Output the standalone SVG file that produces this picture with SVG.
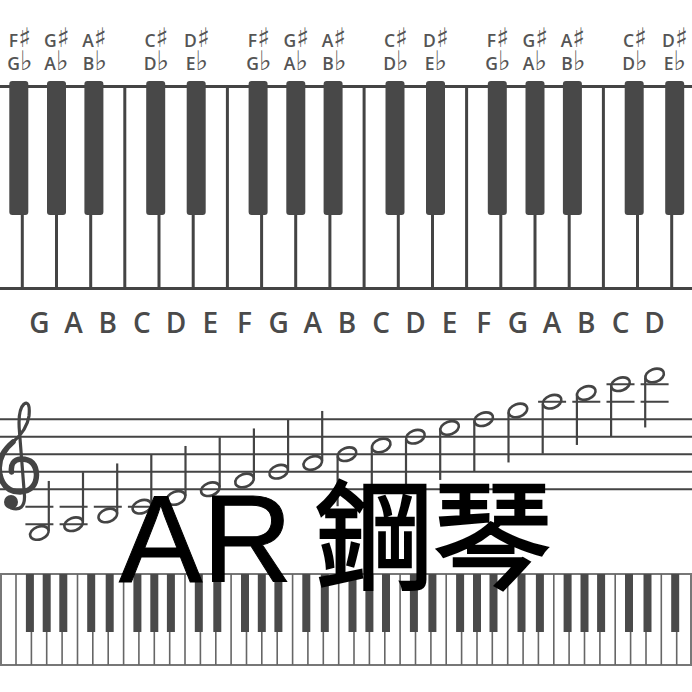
<svg xmlns="http://www.w3.org/2000/svg" xmlns:xlink="http://www.w3.org/1999/xlink" width="692" height="692" viewBox="0 0 692 692">
<style>
.wk{stroke:#444;stroke-width:3;fill:none}
.bk{fill:#484848}
.lbl{font-family:"Open Sans","DejaVu Sans",sans-serif;font-size:17.5px;font-weight:600;fill:#555;text-anchor:middle}
.acc{font-family:"DejaVu Sans",sans-serif;font-size:27px;font-weight:normal}
.nn{font-family:"Open Sans","DejaVu Sans",sans-serif;font-size:28px;font-weight:600;fill:#4a4a4a;text-anchor:middle}
.sl{stroke:#444;stroke-width:2;fill:none}
.head{fill:none;stroke:#444;stroke-width:2.6}
.stem{stroke:#444;stroke-width:2.2}
.bwk{stroke:#666;stroke-width:1.6;fill:none}
.bbk{fill:#4a4a4a}
</style>
<defs>
<ellipse id="head" class="head" cx="0" cy="0" rx="9.6" ry="6.4" transform="rotate(-20)"/>
<g id="nu"><use xlink:href="#head"/><line class="stem" x1="9.4" y1="-2" x2="9.4" y2="-52"/></g>
<g id="nd"><use xlink:href="#head"/><line class="stem" x1="-9.4" y1="2" x2="-9.4" y2="52"/></g>
</defs>
<rect width="692" height="692" fill="#fff"/>

<g id="top-keyboard">
<path class="wk" d="M22.3 87V288M56.5 87V288M90.7 87V288M124.8 87V288M159 87V288M193.2 87V288M227.4 87V288M261.6 87V288M295.7 87V288M329.9 87V288M364.1 87V288M398.3 87V288M432.5 87V288M466.6 87V288M500.8 87V288M535 87V288M569.2 87V288M603.4 87V288M637.5 87V288M671.7 87V288"/>
<line class="wk" x1="0" y1="86.5" x2="692" y2="86.5"/>
<line class="wk" x1="0" y1="288.5" x2="692" y2="288.5"/>
<g class="bk">
<rect x="9.3" y="81" width="19" height="134" rx="3"/>
<rect x="47" y="81" width="19" height="134" rx="3"/>
<rect x="84.4" y="81" width="19" height="134" rx="3"/>
<rect x="146.2" y="81" width="19" height="134" rx="3"/>
<rect x="186.7" y="81" width="19" height="134" rx="3"/>
<rect x="248.6" y="81" width="19" height="134" rx="3"/>
<rect x="286.3" y="81" width="19" height="134" rx="3"/>
<rect x="323.6" y="81" width="19" height="134" rx="3"/>
<rect x="385.5" y="81" width="19" height="134" rx="3"/>
<rect x="426" y="81" width="19" height="134" rx="3"/>
<rect x="487.8" y="81" width="19" height="134" rx="3"/>
<rect x="525.5" y="81" width="19" height="134" rx="3"/>
<rect x="562.9" y="81" width="19" height="134" rx="3"/>
<rect x="624.7" y="81" width="19" height="134" rx="3"/>
<rect x="665.2" y="81" width="19" height="134" rx="3"/>
</g>
</g>

<g id="accidental-labels" class="lbl">
<text x="20" y="47">F<tspan class="acc">♯</tspan></text><text x="20" y="70">G<tspan class="acc">♭</tspan></text>
<text x="57" y="47">G<tspan class="acc">♯</tspan></text><text x="56.5" y="70">A<tspan class="acc">♭</tspan></text>
<text x="94.5" y="47">A<tspan class="acc">♯</tspan></text><text x="95" y="70">B<tspan class="acc">♭</tspan></text>
<text x="156.5" y="47">C<tspan class="acc">♯</tspan></text><text x="156.5" y="70">D<tspan class="acc">♭</tspan></text>
<text x="197" y="47">D<tspan class="acc">♯</tspan></text><text x="197" y="70">E<tspan class="acc">♭</tspan></text>
<text x="259" y="47">F<tspan class="acc">♯</tspan></text><text x="259" y="70">G<tspan class="acc">♭</tspan></text>
<text x="296.5" y="47">G<tspan class="acc">♯</tspan></text><text x="296" y="70">A<tspan class="acc">♭</tspan></text>
<text x="334" y="47">A<tspan class="acc">♯</tspan></text><text x="334.5" y="70">B<tspan class="acc">♭</tspan></text>
<text x="396" y="47">C<tspan class="acc">♯</tspan></text><text x="396" y="70">D<tspan class="acc">♭</tspan></text>
<text x="436" y="47">D<tspan class="acc">♯</tspan></text><text x="436" y="70">E<tspan class="acc">♭</tspan></text>
<text x="498" y="47">F<tspan class="acc">♯</tspan></text><text x="498" y="70">G<tspan class="acc">♭</tspan></text>
<text x="535.5" y="47">G<tspan class="acc">♯</tspan></text><text x="535" y="70">A<tspan class="acc">♭</tspan></text>
<text x="573" y="47">A<tspan class="acc">♯</tspan></text><text x="573.5" y="70">B<tspan class="acc">♭</tspan></text>
<text x="635" y="47">C<tspan class="acc">♯</tspan></text><text x="635" y="70">D<tspan class="acc">♭</tspan></text>
<text x="675" y="47">D<tspan class="acc">♯</tspan></text><text x="675" y="70">E<tspan class="acc">♭</tspan></text>
</g>

<g id="note-names" class="nn">
<text x="39.4" y="333">G</text>
<text x="73.6" y="333">A</text>
<text x="107.8" y="333">B</text>
<text x="141.9" y="333">C</text>
<text x="176.1" y="333">D</text>
<text x="210.3" y="333">E</text>
<text x="244.5" y="333">F</text>
<text x="278.7" y="333">G</text>
<text x="312.8" y="333">A</text>
<text x="347" y="333">B</text>
<text x="381.2" y="333">C</text>
<text x="415.4" y="333">D</text>
<text x="449.6" y="333">E</text>
<text x="483.7" y="333">F</text>
<text x="517.9" y="333">G</text>
<text x="552.1" y="333">A</text>
<text x="586.3" y="333">B</text>
<text x="620.5" y="333">C</text>
<text x="654.6" y="333">D</text>
</g>

<g id="staff">
<path class="sl" d="M0 419.2H692M0 436.7H692M0 454.2H692M0 471.7H692M0 489.2H692"/>
<path class="sl" d="M25.4 506.7h28M25.4 524.2h28M59.6 506.7h28M59.6 524.2h28M93.8 506.7h28M127.9 506.7h28M538.1 401.7h28M572.3 401.7h28M606.5 401.7h28M606.5 384.2h28M640.6 401.7h28M640.6 384.2h28"/>
<g id="treble-clef" fill="none" stroke="#444" stroke-linecap="round">
<path stroke-width="3.2" d="M11 508 Q25 512 24.5 496 L19.5 432 Q17.5 410 24 404 Q30.5 400 29 416 Q27 430 13 442"/>
<path stroke-width="5.5" d="M13 442 Q-4 456 0 475 Q4 492 20 492 Q36 491 36.5 475 Q36 459 21 459 Q10 460 11.5 472"/>
<circle cx="11" cy="502" r="7" fill="#444" stroke="none"/>
</g>
</g>

<g id="notes">
<use xlink:href="#nu" x="39.4" y="532.95"/>
<use xlink:href="#nu" x="73.6" y="524.2"/>
<use xlink:href="#nu" x="107.8" y="515.45"/>
<use xlink:href="#nu" x="141.9" y="506.7"/>
<use xlink:href="#nu" x="176.1" y="497.95"/>
<use xlink:href="#nu" x="210.3" y="489.2"/>
<use xlink:href="#nu" x="244.5" y="480.45"/>
<use xlink:href="#nu" x="278.7" y="471.7"/>
<use xlink:href="#nu" x="312.8" y="462.95"/>
<use xlink:href="#nd" x="347" y="454.2"/>
<use xlink:href="#nd" x="381.2" y="445.45"/>
<use xlink:href="#nd" x="415.4" y="436.7"/>
<use xlink:href="#nd" x="449.6" y="427.95"/>
<use xlink:href="#nd" x="483.7" y="419.2"/>
<use xlink:href="#nd" x="517.9" y="410.45"/>
<use xlink:href="#nd" x="552.1" y="401.7"/>
<use xlink:href="#nd" x="586.3" y="392.95"/>
<use xlink:href="#nd" x="620.5" y="384.2"/>
<use xlink:href="#nd" x="654.6" y="375.45"/>
</g>

<g id="bottom-keyboard">
<rect x="1" y="574" width="690" height="91" fill="#fff" stroke="#777" stroke-width="2"/>
<path class="bwk" d="M16 574V665M31.4 574V665M46.7 574V665M62.1 574V665M77.5 574V665M92.8 574V665M108.2 574V665M123.6 574V665M138.9 574V665M154.3 574V665M169.7 574V665M185 574V665M200.4 574V665M215.8 574V665M231.1 574V665M246.5 574V665M261.8 574V665M277.2 574V665M292.6 574V665M307.9 574V665M323.3 574V665M338.7 574V665M354 574V665M369.4 574V665M384.8 574V665M400.1 574V665M415.5 574V665M430.9 574V665M446.2 574V665M461.6 574V665M477 574V665M492.3 574V665M507.7 574V665M523.1 574V665M538.4 574V665M553.8 574V665M569.1 574V665M584.5 574V665M599.9 574V665M615.2 574V665M630.6 574V665M646 574V665M661.3 574V665M676.7 574V665"/>
<g class="bbk">
<rect x="25.9" y="574" width="8" height="58"/><rect x="42.7" y="574" width="8" height="58"/><rect x="59.3" y="574" width="8" height="58"/>
<rect x="87.2" y="574" width="8" height="58"/><rect x="105.7" y="574" width="8" height="58"/>
<rect x="133.4" y="574" width="8" height="58"/><rect x="150.3" y="574" width="8" height="58"/><rect x="166.9" y="574" width="8" height="58"/>
<rect x="194.8" y="574" width="8" height="58"/><rect x="213.3" y="574" width="8" height="58"/>
<rect x="241" y="574" width="8" height="58"/><rect x="257.8" y="574" width="8" height="58"/><rect x="274.4" y="574" width="8" height="58"/>
<rect x="302.3" y="574" width="8" height="58"/><rect x="320.8" y="574" width="8" height="58"/>
<rect x="348.5" y="574" width="8" height="58"/><rect x="365.4" y="574" width="8" height="58"/><rect x="382" y="574" width="8" height="58"/>
<rect x="409.9" y="574" width="8" height="58"/><rect x="428.4" y="574" width="8" height="58"/>
<rect x="456.1" y="574" width="8" height="58"/><rect x="473" y="574" width="8" height="58"/><rect x="489.5" y="574" width="8" height="58"/>
<rect x="517.5" y="574" width="8" height="58"/><rect x="535.9" y="574" width="8" height="58"/>
<rect x="563.6" y="574" width="8" height="58"/><rect x="580.5" y="574" width="8" height="58"/><rect x="597.1" y="574" width="8" height="58"/>
<rect x="625" y="574" width="8" height="58"/><rect x="643.5" y="574" width="8" height="58"/>
<rect x="671.2" y="574" width="8" height="58"/>
</g>
</g>

<g id="title" fill="#000">
<text x="119" y="582" font-family="'Liberation Sans',Arial,sans-serif" font-size="125" stroke="#000" stroke-width="1">AR</text>
<text x="315" y="580" font-family="'Noto Sans CJK TC','Noto Sans CJK SC',sans-serif" font-size="118" stroke="#000" stroke-width="2.5">鋼琴</text>
</g>
</svg>
